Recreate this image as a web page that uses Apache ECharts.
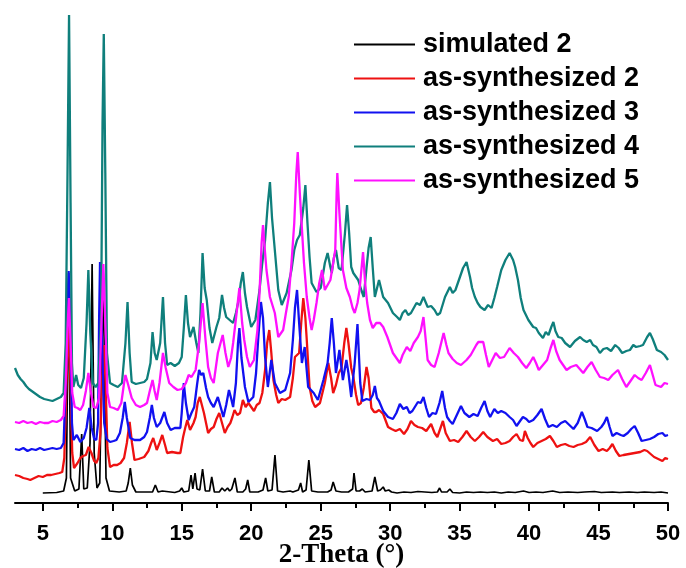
<!DOCTYPE html>
<html>
<head>
<meta charset="utf-8">
<script src="https://cdn.jsdelivr.net/npm/echarts@6/dist/echarts.min.js"></script>
<style>
    html, body { margin: 0; padding: 0; background: #fff; }
    #chart { width: 686px; height: 568px; }
</style>
</head>
<body>
<div id="chart"></div>
<script>
    // tick positions on the 2-Theta axis
    var majorTicks = [5, 10, 15, 20, 25, 30, 35, 40, 45, 50];
    var minorTicks = [7.5, 12.5, 17.5, 22.5, 27.5, 32.5, 37.5, 42.5, 47.5];

    var seriesNames = ['simulated 2', 'as-synthesized 2', 'as-synthesized 3', 'as-synthesized 4', 'as-synthesized 5'];
    var seriesColors = ['#000000', '#ee1111', '#1111f0', '#0f7f7c', '#ff10ff'];

    // [2-theta, intensity (offset, arbitrary units)]
    var simulated2 = [[5.0,10],[6.0,10.5],[6.5,12],[6.7,25],[6.86,230],[7.0,25],[7.3,12],[7.6,14],[7.8,69],[7.95,14],[8.2,15],[8.4,60],[8.55,239],[8.7,50],[8.9,15],[9.1,20],[9.35,230],[9.55,25],[9.8,12],[10.5,11],[11.0,12],[11.15,20],[11.3,35],[11.45,18],[11.7,11],[12.9,11],[13.1,18],[13.3,11],[13.6,12],[14.5,10.5],[14.85,12],[15.0,15],[15.15,11],[15.5,12],[15.67,28],[15.8,14],[15.96,30],[16.1,14],[16.3,13],[16.5,34],[16.7,12],[17.0,12],[17.16,26],[17.35,11],[17.7,11],[17.9,15],[18.1,12],[18.3,15],[18.45,12],[18.6,14],[18.83,25],[19.0,11],[19.4,11],[19.6,14],[19.75,23],[19.9,11],[20.5,11],[20.85,13],[21.04,25],[21.2,12],[21.5,13],[21.71,48],[21.9,12],[22.3,11],[22.8,12],[23.0,11],[23.4,13],[23.56,20],[23.7,11],[23.95,13],[24.15,43],[24.35,12],[24.8,11],[25.5,11],[25.75,13],[25.9,21],[26.1,12],[26.5,11],[27.0,11],[27.3,14],[27.4,30],[27.55,12],[27.8,12],[28.0,14],[28.2,11],[28.7,12],[28.9,26],[29.1,12],[29.3,13],[29.5,16],[29.65,12],[29.9,13],[30.1,11],[30.5,10],[31.0,11],[31.5,10.5],[32.0,11.5],[32.5,11],[33.0,10.5],[33.4,11],[33.56,15],[33.7,11],[34.1,11],[34.3,14],[34.5,10.5],[35.0,10],[35.5,11],[36.0,10.5],[36.5,11],[37.0,10.5],[37.5,11],[38.0,10],[38.5,11],[39.0,10.5],[39.6,12],[40.0,10.5],[40.5,11],[41.0,10.5],[41.7,12],[42.2,10.5],[42.8,11],[43.5,10.5],[44.0,11],[44.7,11.5],[45.2,10.5],[46.0,11],[46.5,10.5],[47.2,11],[47.8,10.5],[48.3,11],[49.0,10.5],[49.5,11],[50.0,10]];

    var synth2 = [[3.0,28],[3.3,27],[3.6,25],[3.9,24],[4.1,23],[4.4,25],[4.7,27],[5.0,26],[5.3,28],[5.6,28],[5.9,29],[6.2,30],[6.4,31],[6.55,45],[6.7,120],[6.85,180],[7.0,120],[7.12,50],[7.25,35],[7.5,40],[7.7,45],[7.9,47],[8.1,48],[8.3,56],[8.5,50],[8.7,42],[8.85,40],[9.0,45],[9.15,70],[9.3,140],[9.4,158],[9.52,120],[9.65,55],[9.84,36],[10.1,38],[10.35,38],[10.6,40],[10.85,45],[11.05,60],[11.25,81],[11.42,60],[11.6,43],[11.9,44],[12.3,46],[12.6,52],[12.8,60],[12.95,65],[13.1,58],[13.2,53],[13.4,60],[13.6,68],[13.8,58],[13.95,50],[14.3,51],[14.7,50],[14.9,50],[15.1,66],[15.25,75],[15.4,83],[15.6,73],[15.85,80],[16.0,86],[16.15,100],[16.3,106],[16.45,98],[16.6,90],[16.75,80],[16.9,70],[17.1,74],[17.3,76],[17.5,84],[17.7,90],[17.9,80],[18.1,70],[18.3,76],[18.5,80],[18.65,86],[18.8,93],[19.0,88],[19.2,90],[19.4,103],[19.6,96],[19.8,100],[20.0,96],[20.2,92],[20.4,98],[20.6,100],[20.8,110],[21.0,133],[21.15,160],[21.3,173],[21.45,150],[21.6,123],[21.8,108],[21.95,100],[22.2,104],[22.45,103],[22.8,106],[23.0,125],[23.15,146],[23.3,148],[23.45,150],[23.6,180],[23.75,205],[23.9,185],[24.0,163],[24.2,116],[24.4,102],[24.6,96],[24.95,100],[25.3,120],[25.55,140],[25.75,125],[25.9,110],[26.1,118],[26.3,130],[26.5,135],[26.7,160],[26.85,175],[27.0,160],[27.2,135],[27.35,126],[27.55,108],[27.7,98],[27.9,100],[28.1,115],[28.3,136],[28.45,125],[28.65,95],[28.85,91],[29.0,91],[29.2,93],[29.5,89],[29.85,76],[30.1,74],[30.4,72],[30.7,74],[31.0,69],[31.25,74],[31.5,82],[31.75,78],[32.0,76],[32.3,75],[32.6,72],[32.95,79],[33.2,70],[33.4,66],[33.6,74],[33.8,82],[34.0,70],[34.3,62],[34.6,63],[34.9,61],[35.2,66],[35.5,72],[35.8,66],[36.1,62],[36.4,66],[36.7,71],[37.0,66],[37.4,62],[37.7,64],[38.0,59],[38.3,60],[38.6,62],[38.85,66],[39.1,69],[39.35,63],[39.56,62],[39.7,72],[39.9,65],[40.1,60],[40.3,56],[40.6,60],[40.9,62],[41.2,64],[41.5,67],[41.75,62],[42.0,56],[42.3,58],[42.6,59],[42.9,57],[43.2,56],[43.5,58],[43.8,59],[44.1,61],[44.4,66],[44.7,58],[45.0,52],[45.3,54],[45.6,52],[45.8,55],[46.0,59],[46.25,52],[46.5,47],[46.8,48],[47.2,49],[47.6,50],[48.0,51],[48.3,53],[48.5,52],[48.75,49],[49.0,46],[49.3,44],[49.6,42],[49.8,45],[50.0,44]];

    var synth3 = [[3.0,54],[3.3,53],[3.6,55],[3.9,52],[4.2,54],[4.5,53],[4.8,55],[5.1,53],[5.4,54],[5.7,55],[6.0,54],[6.3,55],[6.5,60],[6.65,120],[6.78,200],[6.86,232],[6.98,180],[7.1,80],[7.2,63],[7.45,68],[7.7,61],[7.95,65],[8.15,75],[8.35,95],[8.52,75],[8.7,64],[8.85,63],[8.98,80],[9.05,180],[9.12,241],[9.25,170],[9.42,80],[9.6,64],[9.84,61],[10.1,62],[10.3,63],[10.55,70],[10.75,85],[10.9,101],[11.05,85],[11.3,65],[11.6,63],[12.0,63],[12.3,66],[12.5,71],[12.7,85],[12.85,98],[13.0,85],[13.2,76],[13.45,80],[13.75,91],[13.95,80],[14.2,73],[14.5,75],[14.9,75],[15.0,90],[15.15,120],[15.3,100],[15.5,83],[15.7,90],[15.9,96],[16.1,118],[16.25,133],[16.4,128],[16.55,130],[16.75,115],[16.9,106],[17.1,100],[17.3,96],[17.6,106],[17.8,96],[18.0,86],[18.2,98],[18.4,113],[18.55,105],[18.7,96],[18.9,120],[19.05,160],[19.15,175],[19.3,145],[19.55,116],[19.8,101],[20.15,106],[20.35,130],[20.5,163],[20.7,201],[20.85,185],[21.0,146],[21.2,116],[21.45,143],[21.7,120],[22.07,110],[22.45,113],[22.8,130],[23.0,163],[23.15,195],[23.3,213],[23.45,180],[23.65,140],[23.85,156],[24.1,116],[24.5,110],[24.8,103],[25.2,123],[25.5,140],[25.65,160],[25.8,185],[25.95,160],[26.1,130],[26.35,153],[26.6,123],[26.85,143],[27.0,130],[27.2,106],[27.45,140],[27.65,179],[27.85,120],[28.0,102],[28.3,104],[28.55,103],[28.75,108],[28.9,117],[29.05,105],[29.2,102],[29.5,92],[29.85,86],[30.2,84],[30.45,90],[30.7,99],[30.95,94],[31.2,96],[31.4,90],[31.6,92],[32.0,101],[32.2,100],[32.4,106],[32.6,95],[32.8,86],[33.05,90],[33.3,89],[33.55,100],[33.75,112],[33.95,95],[34.1,86],[34.3,82],[34.5,79],[34.8,88],[35.1,97],[35.35,90],[35.7,86],[36.0,89],[36.3,87],[36.55,95],[36.8,102],[37.0,92],[37.2,86],[37.5,94],[37.75,90],[38.0,92],[38.3,90],[38.6,86],[38.85,83],[39.1,77],[39.35,82],[39.56,86],[39.8,84],[40.0,81],[40.3,83],[40.6,88],[40.9,94],[41.15,84],[41.4,76],[41.7,78],[42.0,76],[42.3,80],[42.6,82],[42.9,78],[43.2,74],[43.5,80],[43.8,91],[44.0,84],[44.2,76],[44.5,75],[44.9,72],[45.2,76],[45.4,80],[45.6,86],[45.8,76],[46.0,67],[46.3,70],[46.6,68],[46.8,67],[47.1,70],[47.35,74],[47.6,77],[47.85,70],[48.1,62],[48.4,63],[48.7,64],[49.0,66],[49.3,69],[49.6,70],[49.8,67],[50.0,68]];

    var synth4 = [[3.0,135],[3.2,128],[3.4,124],[3.6,121],[3.8,117],[4.0,114],[4.2,112],[4.5,109],[4.8,106],[5.1,104],[5.4,103],[5.7,102],[6.0,104],[6.3,106],[6.5,110],[6.65,160],[6.78,330],[6.89,488],[7.0,300],[7.1,140],[7.2,116],[7.4,128],[7.55,118],[7.75,115],[7.95,125],[8.15,180],[8.28,233],[8.42,170],[8.6,120],[8.8,116],[9.0,120],[9.2,190],[9.3,380],[9.39,469],[9.5,330],[9.62,150],[9.84,120],[10.1,118],[10.4,116],[10.7,120],[10.95,160],[11.1,201],[11.25,150],[11.4,121],[11.7,119],[12.0,120],[12.3,121],[12.5,124],[12.75,140],[12.9,171],[13.05,150],[13.2,143],[13.45,160],[13.65,206],[13.8,160],[13.95,138],[14.2,140],[14.5,137],[14.8,140],[15.0,146],[15.15,175],[15.3,208],[15.45,180],[15.6,166],[15.85,176],[16.05,160],[16.2,150],[16.35,190],[16.5,250],[16.65,215],[16.8,203],[17.0,175],[17.2,160],[17.5,176],[17.7,185],[17.9,208],[18.05,195],[18.2,186],[18.45,183],[18.7,180],[18.9,190],[19.1,203],[19.25,220],[19.4,231],[19.55,210],[19.7,196],[20.0,176],[20.3,183],[20.6,213],[20.8,240],[21.0,263],[21.2,300],[21.35,321],[21.5,285],[21.7,253],[21.95,213],[22.2,198],[22.55,210],[22.9,233],[23.1,253],[23.3,263],[23.5,268],[23.75,295],[23.9,318],[24.05,280],[24.2,246],[24.35,220],[24.7,211],[25.0,215],[25.1,223],[25.3,240],[25.5,250],[25.7,236],[25.8,230],[25.95,245],[26.1,253],[26.3,235],[26.5,233],[26.75,270],[26.9,298],[27.05,270],[27.2,236],[27.35,230],[27.7,223],[27.95,212],[28.1,206],[28.3,235],[28.45,255],[28.6,266],[28.75,235],[28.9,206],[29.2,223],[29.5,206],[29.85,200],[30.2,190],[30.5,186],[30.7,183],[30.9,190],[31.1,193],[31.3,188],[31.5,190],[31.7,195],[31.9,200],[32.15,198],[32.4,206],[32.7,196],[32.95,197],[33.2,193],[33.4,188],[33.6,190],[33.95,206],[34.3,216],[34.5,210],[34.7,213],[35.0,225],[35.25,235],[35.5,241],[35.75,226],[35.9,215],[36.1,206],[36.3,200],[36.5,196],[36.8,193],[37.05,198],[37.3,195],[37.5,205],[37.7,216],[38.0,233],[38.3,243],[38.6,250],[38.85,243],[39.0,236],[39.2,223],[39.4,205],[39.6,193],[39.95,183],[40.3,176],[40.5,175],[40.7,170],[41.0,165],[41.2,171],[41.4,168],[41.6,176],[41.75,181],[41.9,172],[42.1,166],[42.35,165],[42.6,160],[42.95,156],[43.3,162],[43.67,166],[43.9,163],[44.15,161],[44.4,163],[44.6,158],[44.85,156],[45.1,150],[45.35,154],[45.6,155],[45.9,152],[46.2,158],[46.45,155],[46.7,150],[47.0,152],[47.26,153],[47.5,158],[47.7,156],[48.0,157],[48.2,158],[48.5,166],[48.7,170],[48.9,164],[49.2,153],[49.5,151],[49.75,148],[50.0,143]];

    var synth5 = [[3.0,81],[3.3,80],[3.6,82],[3.9,80],[4.2,81],[4.5,79],[4.8,81],[5.1,80],[5.4,80],[5.7,82],[6.0,81],[6.3,83],[6.5,87],[6.65,120],[6.78,175],[6.88,205],[7.0,160],[7.12,110],[7.3,96],[7.5,95],[7.7,93],[7.9,98],[8.1,112],[8.28,130],[8.45,112],[8.65,96],[8.85,95],[9.05,105],[9.2,170],[9.36,239],[9.5,180],[9.65,110],[9.84,96],[10.1,95],[10.4,93],[10.65,100],[10.85,120],[10.95,128],[11.15,118],[11.4,105],[11.7,98],[12.0,96],[12.3,98],[12.5,100],[12.7,112],[12.9,123],[13.05,112],[13.2,103],[13.4,120],[13.65,150],[13.85,135],[14.1,120],[14.4,116],[14.7,113],[15.0,114],[15.3,120],[15.5,128],[15.7,126],[16.0,133],[16.25,160],[16.5,200],[16.7,165],[16.9,136],[17.1,125],[17.3,120],[17.6,150],[17.95,168],[18.15,150],[18.35,136],[18.55,145],[18.7,160],[18.95,190],[19.15,215],[19.35,180],[19.5,163],[19.7,146],[19.9,136],[20.2,143],[20.45,173],[20.6,210],[20.75,260],[20.85,278],[21.0,250],[21.1,233],[21.35,206],[21.7,190],[21.95,166],[22.3,173],[22.5,190],[22.7,206],[22.9,240],[23.1,280],[23.25,330],[23.35,351],[23.5,310],[23.6,286],[23.8,240],[24.0,206],[24.2,185],[24.35,173],[24.5,183],[24.7,200],[24.9,220],[25.1,233],[25.3,213],[25.5,218],[25.7,223],[25.9,240],[26.05,253],[26.15,310],[26.2,330],[26.35,290],[26.6,233],[26.85,215],[27.1,206],[27.3,195],[27.45,190],[27.65,200],[27.8,213],[28.05,251],[28.2,220],[28.35,200],[28.55,183],[28.75,175],[29.0,180],[29.27,180],[29.5,176],[29.8,166],[30.0,158],[30.2,150],[30.45,145],[30.7,140],[30.9,148],[31.2,156],[31.45,152],[31.7,160],[32.0,166],[32.2,172],[32.4,186],[32.55,165],[32.7,143],[32.95,138],[33.2,136],[33.5,150],[33.85,170],[34.05,158],[34.2,150],[34.5,144],[34.8,140],[35.1,138],[35.5,143],[35.8,148],[36.0,153],[36.2,158],[36.35,161],[36.7,161],[36.9,148],[37.1,136],[37.35,143],[37.6,150],[37.9,145],[38.2,146],[38.6,155],[38.9,150],[39.2,146],[39.5,140],[39.8,135],[40.05,140],[40.3,146],[40.5,140],[40.7,133],[41.0,138],[41.3,143],[41.55,155],[41.75,163],[41.95,152],[42.2,143],[42.45,138],[42.7,133],[43.0,136],[43.4,138],[43.65,134],[43.9,130],[44.2,136],[44.5,141],[44.8,133],[45.1,126],[45.4,125],[45.7,123],[46.0,128],[46.4,133],[46.7,124],[47.0,116],[47.3,122],[47.6,128],[47.85,125],[48.1,123],[48.4,130],[48.7,138],[48.9,128],[49.1,118],[49.3,117],[49.5,116],[49.75,120],[50.0,119]];

    var allData = [simulated2, synth2, synth3, synth4, synth5];

    var myChart = echarts.init(document.getElementById('chart'));

    var series = allData.map(function (d, i) {
        return {
            name: seriesNames[i],
            type: 'line',
            data: d,
            showSymbol: false,
            symbol: 'none',
            smooth: false,
            lineStyle: { color: seriesColors[i], width: i === 0 ? 1.7 : 2.3 },
            itemStyle: { color: seriesColors[i] }
        };
    });

    var option = {
        animation: false,
        backgroundColor: '#ffffff',
        grid: { left: 15, right: 18, top: 10, bottom: 65, outerBoundsMode: 'none' },
        legend: {
            orient: 'vertical',
            left: 349,
            top: 26,
            icon: 'rect',
            itemWidth: 61,
            itemHeight: 2,
            itemGap: 7,
            data: seriesNames,
            textStyle: {
                fontFamily: 'Liberation Sans',
                fontWeight: 'bold',
                fontSize: 27,
                color: '#000',
                padding: [0, 0, 0, 3]
            }
        },
        xAxis: [{
            type: 'value',
            min: 3,
            max: 50,
            position: 'bottom',
            name: '2-Theta (°)',
            nameLocation: 'middle',
            nameGap: 39,
            nameMoveOverlap: false,
            nameTextStyle: {
                fontFamily: 'Liberation Serif',
                fontWeight: 'bold',
                fontSize: 27,
                color: '#000'
            },
            axisLine: { onZero: false, lineStyle: { color: '#000', width: 2 } },
            axisTick: { customValues: majorTicks, length: 8, lineStyle: { color: '#000', width: 2 } },
            axisLabel: {
                customValues: majorTicks,
                margin: 20,
                fontFamily: 'Liberation Sans',
                fontWeight: 'bold',
                fontSize: 22,
                color: '#000'
            },
            splitLine: { show: false }
        }, {
            type: 'value',
            min: 3,
            max: 50,
            position: 'bottom',
            offset: 0,
            axisLine: { show: false, onZero: false },
            axisTick: { customValues: minorTicks, length: 5, lineStyle: { color: '#000', width: 2 } },
            axisLabel: { show: false },
            splitLine: { show: false }
        }],
        yAxis: {
            type: 'value',
            min: 0,
            max: 493,
            show: false,
            splitLine: { show: false }
        },
        series: series
    };
    myChart.setOption(option);
</script>
</body>
</html>
